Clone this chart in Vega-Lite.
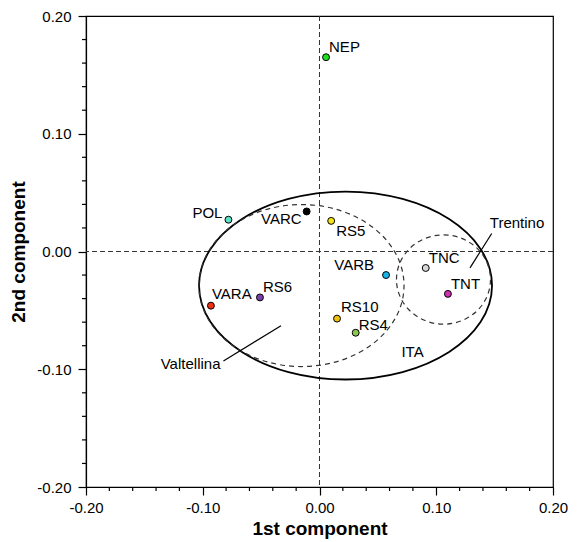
{
  "$schema": "https://vega.github.io/schema/vega-lite/v6.json",
  "autosize": "none",
  "width": 467,
  "height": 471,
  "padding": {"left": 86, "top": 16, "right": 32, "bottom": 55},
  "background": "white",
  "config": {
    "view": {"stroke": "black", "strokeWidth": 1.2},
    "font": "Liberation Sans",
    "axis": {
      "domainColor": "black",
      "domainWidth": 1.2,
      "tickColor": "black",
      "tickWidth": 1.2,
      "labelColor": "black",
      "labelFont": "Liberation Sans",
      "labelFontSize": 15,
      "titleFont": "Liberation Sans",
      "titleFontSize": 19,
      "titleFontWeight": "bold",
      "titleColor": "black",
      "grid": false,
      "labelOverlap": false,
      "labelFlush": false
    }
  },
  "datasets": {
    "points": [
      {"name": "NEP", "x": 0.0056, "y": 0.165},
      {"name": "POL", "x": -0.078, "y": 0.027},
      {"name": "VARC", "x": -0.011, "y": 0.034},
      {"name": "RS5", "x": 0.010, "y": 0.026},
      {"name": "VARB", "x": 0.057, "y": -0.020},
      {"name": "TNC", "x": 0.091, "y": -0.014},
      {"name": "TNT", "x": 0.110, "y": -0.036},
      {"name": "VARA", "x": -0.093, "y": -0.046},
      {"name": "RS6", "x": -0.051, "y": -0.039},
      {"name": "RS10", "x": 0.015, "y": -0.057},
      {"name": "RS4", "x": 0.031, "y": -0.069}
    ],
    "regions": [
      {"group": "ITA", "x": 0.0223, "y": -0.0289},
      {"group": "Valtellina", "x": -0.0154, "y": -0.0289},
      {"group": "Trentino", "x": 0.1062, "y": -0.0238}
    ],
    "leaders": [
      {"group": "Valtellina", "x": -0.033, "y": -0.063, "x2": -0.0823, "y2": -0.093},
      {"group": "Trentino", "x": 0.1289, "y": -0.0139, "x2": 0.1475, "y2": 0.0153}
    ],
    "annotations": [
      {"text": "Valtellina", "x": -0.0848, "y": -0.0953},
      {"text": "Trentino", "x": 0.1692, "y": 0.0241},
      {"text": "ITA", "x": 0.0797, "y": -0.0857}
    ],
    "origin": [{"v": 0}],
    "minorTicks": [
      {"v": -0.18}, {"v": -0.16}, {"v": -0.14}, {"v": -0.12},
      {"v": -0.08}, {"v": -0.06}, {"v": -0.04}, {"v": -0.02},
      {"v": 0.02}, {"v": 0.04}, {"v": 0.06}, {"v": 0.08},
      {"v": 0.12}, {"v": 0.14}, {"v": 0.16}, {"v": 0.18}
    ]
  },
  "layer": [
    {
      "data": {"name": "minorTicks"},
      "mark": {"type": "rule", "color": "black", "strokeWidth": 1.2, "clip": false},
      "encoding": {
        "x": {"field": "v", "type": "quantitative", "scale": {"domain": [-0.2, 0.2], "nice": false, "zero": false}},
        "y": {"datum": -0.2, "type": "quantitative", "scale": {"domain": [-0.2, 0.2], "nice": false, "zero": false}},
        "y2": {"datum": -0.2034}
      }
    },
    {
      "data": {"name": "minorTicks"},
      "mark": {"type": "rule", "color": "black", "strokeWidth": 1.2, "clip": false},
      "encoding": {
        "y": {"field": "v", "type": "quantitative", "scale": {"domain": [-0.2, 0.2], "nice": false, "zero": false}},
        "x": {"datum": -0.2, "type": "quantitative", "scale": {"domain": [-0.2, 0.2], "nice": false, "zero": false}},
        "x2": {"datum": -0.20343}
      }
    },
    {
      "data": {"name": "origin"},
      "mark": {"type": "rule", "strokeDash": [5, 3], "color": "#333333", "strokeWidth": 1},
      "encoding": {"x": {"field": "v", "type": "quantitative", "scale": {"domain": [-0.2, 0.2], "nice": false, "zero": false}}}
    },
    {
      "data": {"name": "origin"},
      "mark": {"type": "rule", "strokeDash": [5, 3], "color": "#333333", "strokeWidth": 1},
      "encoding": {"y": {"field": "v", "type": "quantitative", "scale": {"domain": [-0.2, 0.2], "nice": false, "zero": false}}}
    },
    {
      "data": {"name": "regions"},
      "transform": [{"filter": "datum.group == 'ITA'"}],
      "mark": {
        "type": "point", "filled": false, "stroke": "black", "strokeWidth": 1.8, "opacity": 1,
        "shape": "M -1 0 C -1 -0.3544 -0.5523 -0.6416 0 -0.6416 C 0.5523 -0.6416 1 -0.3544 1 0 C 1 0.3544 0.5523 0.6416 0 0.6416 C -0.5523 0.6416 -1 0.3544 -1 0 Z",
        "size": 85849
      },
      "encoding": {
        "x": {"field": "x", "type": "quantitative", "scale": {"domain": [-0.2, 0.2], "nice": false, "zero": false}},
        "y": {"field": "y", "type": "quantitative", "scale": {"domain": [-0.2, 0.2], "nice": false, "zero": false}}
      }
    },
    {
      "data": {"name": "regions"},
      "transform": [{"filter": "datum.group == 'Valtellina'"}],
      "mark": {
        "type": "point", "filled": false, "stroke": "#333333", "strokeWidth": 1.2, "opacity": 1, "strokeDash": [5, 4],
        "shape": "M -1 0 C -1 -0.4364 -0.5523 -0.7902 0 -0.7902 C 0.5523 -0.7902 1 -0.4364 1 0 C 1 0.4364 0.5523 0.7902 0 0.7902 C -0.5523 0.7902 -1 0.4364 -1 0 Z",
        "size": 42025
      },
      "encoding": {
        "x": {"field": "x", "type": "quantitative", "scale": {"domain": [-0.2, 0.2], "nice": false, "zero": false}},
        "y": {"field": "y", "type": "quantitative", "scale": {"domain": [-0.2, 0.2], "nice": false, "zero": false}}
      }
    },
    {
      "data": {"name": "regions"},
      "transform": [{"filter": "datum.group == 'Trentino'"}],
      "mark": {
        "type": "point", "filled": false, "stroke": "#333333", "strokeWidth": 1.2, "opacity": 1, "strokeDash": [5, 4],
        "shape": "M -1 0 C -1 -0.5247 -0.5523 -0.95 0 -0.95 C 0.5523 -0.95 1 -0.5247 1 0 C 1 0.5247 0.5523 0.95 0 0.95 C -0.5523 0.95 -1 0.5247 -1 0 Z",
        "size": 8836
      },
      "encoding": {
        "x": {"field": "x", "type": "quantitative", "scale": {"domain": [-0.2, 0.2], "nice": false, "zero": false}},
        "y": {"field": "y", "type": "quantitative", "scale": {"domain": [-0.2, 0.2], "nice": false, "zero": false}}
      }
    },
    {
      "data": {"name": "leaders"},
      "mark": {"type": "rule", "color": "black", "strokeWidth": 1.2},
      "encoding": {
        "x": {"field": "x", "type": "quantitative", "scale": {"domain": [-0.2, 0.2], "nice": false, "zero": false}},
        "y": {"field": "y", "type": "quantitative", "scale": {"domain": [-0.2, 0.2], "nice": false, "zero": false}},
        "x2": {"field": "x2"},
        "y2": {"field": "y2"}
      }
    },
    {
      "data": {"name": "annotations"},
      "transform": [{"filter": "datum.text == 'Valtellina'"}],
      "mark": {"type": "text", "align": "right", "baseline": "middle", "fontSize": 15, "color": "black"},
      "encoding": {
        "x": {"field": "x", "type": "quantitative", "scale": {"domain": [-0.2, 0.2], "nice": false, "zero": false}},
        "y": {"field": "y", "type": "quantitative", "scale": {"domain": [-0.2, 0.2], "nice": false, "zero": false}},
        "text": {"field": "text"}
      }
    },
    {
      "data": {"name": "annotations"},
      "transform": [{"filter": "datum.text != 'Valtellina'"}],
      "mark": {"type": "text", "align": "center", "baseline": "middle", "fontSize": 15, "color": "black"},
      "encoding": {
        "x": {"field": "x", "type": "quantitative", "scale": {"domain": [-0.2, 0.2], "nice": false, "zero": false}},
        "y": {"field": "y", "type": "quantitative", "scale": {"domain": [-0.2, 0.2], "nice": false, "zero": false}},
        "text": {"field": "text"}
      }
    },
    {
      "data": {"name": "points"},
      "mark": {"type": "point", "filled": true, "stroke": "black", "strokeWidth": 1, "size": 48, "opacity": 1},
      "encoding": {
        "x": {
          "field": "x", "type": "quantitative",
          "scale": {"domain": [-0.2, 0.2], "nice": false, "zero": false},
          "axis": {
            "orient": "bottom",
            "title": "1st component",
            "values": [-0.2, -0.1, 0, 0.1, 0.2],
            "labelExpr": "replace(format(datum.value, '.2f'), '−', '-')",
            "tickSize": 8,
            "labelPadding": 5,
            "titlePadding": 4
          }
        },
        "y": {
          "field": "y", "type": "quantitative",
          "scale": {"domain": [-0.2, 0.2], "nice": false, "zero": false},
          "axis": {
            "orient": "left",
            "title": "2nd component",
            "values": [-0.2, -0.1, 0, 0.1, 0.2],
            "labelExpr": "replace(format(datum.value, '.2f'), '−', '-')",
            "tickSize": 8,
            "labelPadding": 7,
            "titlePadding": 8
          }
        },
        "fill": {
          "field": "name", "type": "nominal", "legend": null,
          "scale": {
            "domain": ["NEP","POL","VARC","RS5","VARB","TNC","TNT","VARA","RS6","RS10","RS4"],
            "range": ["#1ee01e","#5ce0c8","#000000","#f5e414","#18b4e8","#d8d8d8","#d030b0","#f03010","#7840a8","#f0c010","#8cc850"]
          }
        }
      }
    },
    {
      "data": {"name": "points"},
      "transform": [{"filter": {"field": "name", "oneOf": ["NEP","TNC","TNT","RS6"]}}],
      "mark": {"type": "text", "align": "left", "baseline": "middle", "dx": 3, "dy": -10, "fontSize": 15, "color": "black"},
      "encoding": {
        "x": {"field": "x", "type": "quantitative", "scale": {"domain": [-0.2, 0.2], "nice": false, "zero": false}},
        "y": {"field": "y", "type": "quantitative", "scale": {"domain": [-0.2, 0.2], "nice": false, "zero": false}},
        "text": {"field": "name"}
      }
    },
    {
      "data": {"name": "points"},
      "transform": [{"filter": {"field": "name", "oneOf": ["RS10"]}}],
      "mark": {"type": "text", "align": "left", "baseline": "middle", "dx": 4, "dy": -12, "fontSize": 15, "color": "black"},
      "encoding": {
        "x": {"field": "x", "type": "quantitative", "scale": {"domain": [-0.2, 0.2], "nice": false, "zero": false}},
        "y": {"field": "y", "type": "quantitative", "scale": {"domain": [-0.2, 0.2], "nice": false, "zero": false}},
        "text": {"field": "name"}
      }
    },
    {
      "data": {"name": "points"},
      "transform": [{"filter": {"field": "name", "oneOf": ["RS4"]}}],
      "mark": {"type": "text", "align": "left", "baseline": "middle", "dx": 3, "dy": -8, "fontSize": 15, "color": "black"},
      "encoding": {
        "x": {"field": "x", "type": "quantitative", "scale": {"domain": [-0.2, 0.2], "nice": false, "zero": false}},
        "y": {"field": "y", "type": "quantitative", "scale": {"domain": [-0.2, 0.2], "nice": false, "zero": false}},
        "text": {"field": "name"}
      }
    },
    {
      "data": {"name": "points"},
      "transform": [{"filter": {"field": "name", "oneOf": ["VARA"]}}],
      "mark": {"type": "text", "align": "left", "baseline": "middle", "dx": 1, "dy": -12, "fontSize": 15, "color": "black"},
      "encoding": {
        "x": {"field": "x", "type": "quantitative", "scale": {"domain": [-0.2, 0.2], "nice": false, "zero": false}},
        "y": {"field": "y", "type": "quantitative", "scale": {"domain": [-0.2, 0.2], "nice": false, "zero": false}},
        "text": {"field": "name"}
      }
    },
    {
      "data": {"name": "points"},
      "transform": [{"filter": {"field": "name", "oneOf": ["RS5"]}}],
      "mark": {"type": "text", "align": "left", "baseline": "middle", "dx": 5, "dy": 10, "fontSize": 15, "color": "black"},
      "encoding": {
        "x": {"field": "x", "type": "quantitative", "scale": {"domain": [-0.2, 0.2], "nice": false, "zero": false}},
        "y": {"field": "y", "type": "quantitative", "scale": {"domain": [-0.2, 0.2], "nice": false, "zero": false}},
        "text": {"field": "name"}
      }
    },
    {
      "data": {"name": "points"},
      "transform": [{"filter": {"field": "name", "oneOf": ["POL"]}}],
      "mark": {"type": "text", "align": "right", "baseline": "middle", "dx": -6, "dy": -7, "fontSize": 15, "color": "black"},
      "encoding": {
        "x": {"field": "x", "type": "quantitative", "scale": {"domain": [-0.2, 0.2], "nice": false, "zero": false}},
        "y": {"field": "y", "type": "quantitative", "scale": {"domain": [-0.2, 0.2], "nice": false, "zero": false}},
        "text": {"field": "name"}
      }
    },
    {
      "data": {"name": "points"},
      "transform": [{"filter": {"field": "name", "oneOf": ["VARB"]}}],
      "mark": {"type": "text", "align": "right", "baseline": "middle", "dx": -12, "dy": -10, "fontSize": 15, "color": "black"},
      "encoding": {
        "x": {"field": "x", "type": "quantitative", "scale": {"domain": [-0.2, 0.2], "nice": false, "zero": false}},
        "y": {"field": "y", "type": "quantitative", "scale": {"domain": [-0.2, 0.2], "nice": false, "zero": false}},
        "text": {"field": "name"}
      }
    },
    {
      "data": {"name": "points"},
      "transform": [{"filter": {"field": "name", "oneOf": ["VARC"]}}],
      "mark": {"type": "text", "align": "right", "baseline": "middle", "dx": -5, "dy": 8, "fontSize": 15, "color": "black"},
      "encoding": {
        "x": {"field": "x", "type": "quantitative", "scale": {"domain": [-0.2, 0.2], "nice": false, "zero": false}},
        "y": {"field": "y", "type": "quantitative", "scale": {"domain": [-0.2, 0.2], "nice": false, "zero": false}},
        "text": {"field": "name"}
      }
    }
  ]
}
